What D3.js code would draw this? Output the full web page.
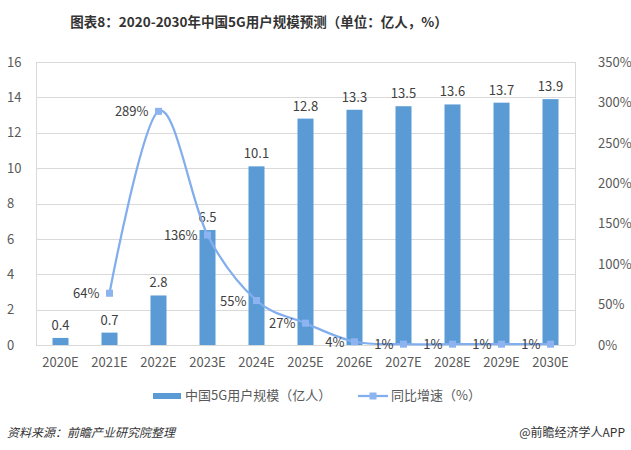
<!DOCTYPE html>
<html><head><meta charset="utf-8">
<script src="https://cdn.jsdelivr.net/npm/d3@7"></script>
<style>body{margin:0;background:#fff}svg{display:block}text{font-family:"Noto Sans CJK SC","Noto Sans",sans-serif}</style>
</head><body><svg id="c" width="631" height="450"></svg>
<script>
const categories = ["2020E","2021E","2022E","2023E","2024E","2025E","2026E","2027E","2028E","2029E","2030E"];
const users = [0.4,0.7,2.8,6.5,10.1,12.8,13.3,13.5,13.6,13.7,13.9];
const growthCats = ["2021E","2022E","2023E","2024E","2025E","2026E","2027E","2028E","2029E","2030E"];
const growth = [64,289,136,55,27,4,1,1,1,1];
const leftTicks = [0,2,4,6,8,10,12,14,16];
const rightTicks = [0,50,100,150,200,250,300,350];

const svg = d3.select("#c");
const L=36, R=575, T=62, B=345;
const x = d3.scaleBand().domain(categories).range([L,R]).padding(0);
const y = d3.scaleLinear().domain([0,16]).range([B,T]);
const y2 = d3.scaleLinear().domain([0,350]).range([B,T]);
const grid="#D9D9D9", txt="#595959";

// title
svg.append("text").attr("x",259).attr("y",27).attr("text-anchor","middle")
  .attr("font-size",13.5).attr("font-weight","bold").attr("fill","#333")
  .text("图表8：2020-2030年中国5G用户规模预测（单位：亿人，%）");

// gridlines
svg.append("g").selectAll("line").data(leftTicks).join("line")
  .attr("x1",L).attr("x2",R).attr("y1",d=>Math.round(y(d))+0.5).attr("y2",d=>Math.round(y(d))+0.5)
  .attr("stroke",grid).attr("stroke-width",1);
svg.append("line").attr("x1",L+0.5).attr("x2",L+0.5).attr("y1",T).attr("y2",B).attr("stroke",grid);
svg.append("line").attr("x1",R+0.5).attr("x2",R+0.5).attr("y1",T).attr("y2",B).attr("stroke",grid);

// left axis labels
const ax = d3.axisLeft(y).tickValues(leftTicks).tickSize(0).tickPadding(0);
const gl = svg.append("g").attr("transform",`translate(7,0)`).call(ax);
gl.select(".domain").remove();
gl.selectAll("text").attr("text-anchor","start").attr("font-size",13).attr("fill",txt).attr("font-family",'"Noto Sans CJK SC",sans-serif');
const ax2 = d3.axisRight(y2).tickValues(rightTicks).tickSize(0).tickPadding(0).tickFormat(d=>d+"%");
const gr = svg.append("g").attr("transform",`translate(598,0)`).call(ax2);
gr.select(".domain").remove();
gr.selectAll("text").attr("font-size",13).attr("fill",txt).attr("font-family",'"Noto Sans CJK SC",sans-serif');

// x labels
const axb = d3.axisBottom(x).tickSize(0).tickPadding(0);
const gb = svg.append("g").attr("transform",`translate(0,${B+13})`).call(axb);
gb.select(".domain").remove();
gb.selectAll("text").attr("font-size",13).attr("fill",txt).attr("font-family",'"Noto Sans CJK SC",sans-serif');

// bars
const bw=16;
svg.append("g").selectAll("rect").data(users).join("rect")
  .attr("x",(d,i)=>x(categories[i])+x.bandwidth()/2-bw/2).attr("width",bw)
  .attr("y",d=>y(d)).attr("height",d=>B-y(d)).attr("fill","#5B9BD5");
svg.append("g").selectAll("text").data(users).join("text")
  .attr("x",(d,i)=>x(categories[i])+x.bandwidth()/2).attr("y",d=>y(d)-8)
  .attr("text-anchor","middle").attr("font-size",13).attr("fill","#404040").text(d=>d);

// line
const cx = c=>x(c)+x.bandwidth()/2;
const pts = growth.map((g,i)=>[cx(growthCats[i]),y2(g)]);
svg.append("path").attr("d",d3.line().curve(d3.curveCardinal.tension(0))(pts))
  .attr("fill","none").attr("stroke","#82AEEE").attr("stroke-width",2.25);
svg.append("g").selectAll("rect").data(pts).join("rect")
  .attr("x",d=>d[0]-3.5).attr("y",d=>d[1]-3.5).attr("width",7).attr("height",7).attr("fill","#8DB4F0");
svg.append("g").selectAll("text").data(growth).join("text")
  .attr("x",(d,i)=>pts[i][0]-10).attr("y",(d,i)=>pts[i][1]+5)
  .attr("text-anchor","end").attr("font-size",13).attr("fill","#404040").text(d=>d+"%");

// legend
svg.append("rect").attr("x",153).attr("y",393).attr("width",28).attr("height",6).attr("fill","#5B9BD5");
svg.append("text").attr("x",185).attr("y",400).attr("font-size",13).attr("fill",txt).text("中国5G用户规模（亿人）");
svg.append("line").attr("x1",358).attr("x2",388).attr("y1",396).attr("y2",396).attr("stroke","#82AEEE").attr("stroke-width",2.25);
svg.append("rect").attr("x",369.5).attr("y",392.5).attr("width",7).attr("height",7).attr("fill","#8DB4F0");
svg.append("text").attr("x",391).attr("y",400).attr("font-size",13).attr("fill",txt).text("同比增速（%）");

// footer
svg.append("text").attr("x",7).attr("y",437).attr("font-size",12).attr("font-style","italic").attr("fill","#333").text("资料来源：前瞻产业研究院整理");
svg.append("text").attr("x",625).attr("y",437).attr("text-anchor","end").attr("font-size",12).attr("fill","#333").text("@前瞻经济学人APP");
</script></body></html>
